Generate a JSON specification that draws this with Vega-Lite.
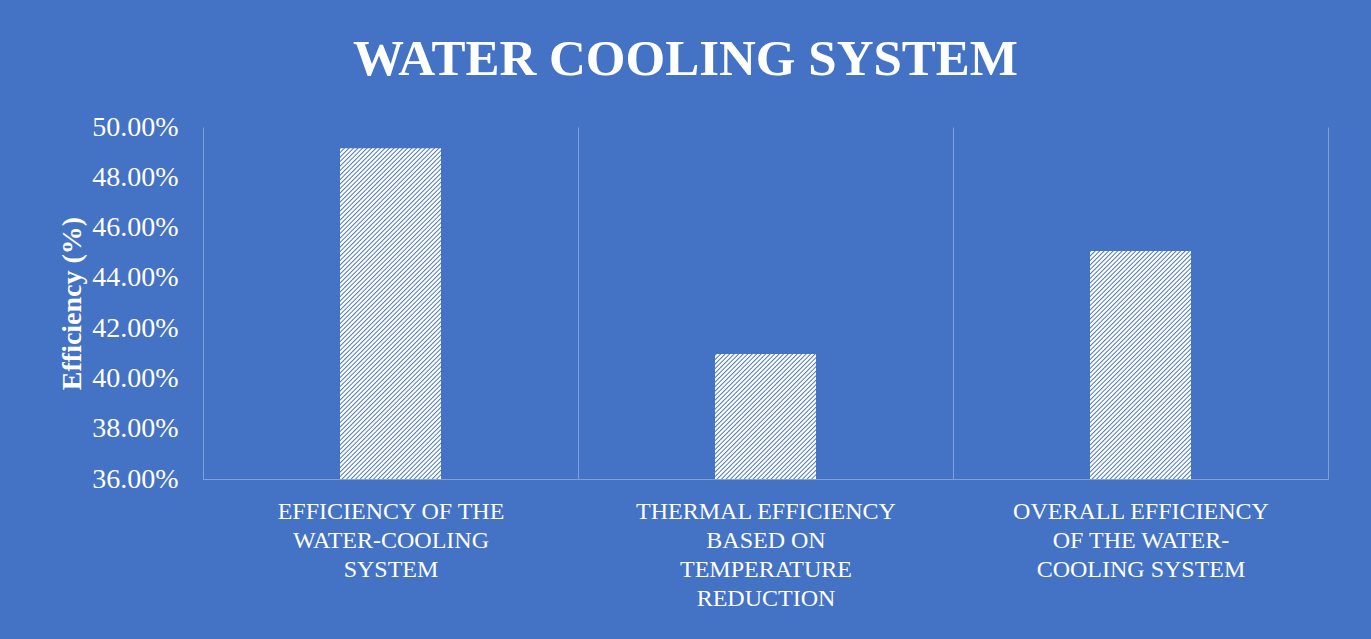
{
  "$schema": "https://vega.github.io/schema/vega-lite/v6.json",
  "width": 1125,
  "height": 352,
  "autosize": "none",
  "padding": {"left": 203, "top": 127, "right": 43, "bottom": 160},
  "background": "#4472C4",
  "config": {"view": {"stroke": null}, "font": "Liberation Serif"},
  "title": {
    "text": "WATER COOLING SYSTEM",
    "font": "Liberation Serif",
    "fontSize": 51,
    "fontWeight": "bold",
    "color": "white",
    "anchor": "middle",
    "baseline": "alphabetic",
    "dx": -80,
    "dy": 49,
    "offset": 36
  },
  "data": {
    "values": [
      {"category": "EFFICIENCY OF THE WATER-COOLING SYSTEM", "efficiency": 0.4915},
      {"category": "THERMAL EFFICIENCY BASED ON TEMPERATURE REDUCTION", "efficiency": 0.4097},
      {"category": "OVERALL EFFICIENCY OF THE WATER-COOLING SYSTEM", "efficiency": 0.4507}
    ]
  },
  "encoding": {
    "x": {
      "field": "category",
      "type": "nominal",
      "sort": null,
      "scale": {"paddingInner": 0, "paddingOuter": 0},
      "axis": {
        "title": null,
        "labelAngle": 0,
        "labelFont": "Liberation Serif",
        "labelFontSize": 24,
        "labelColor": "white",
        "labelPadding": 20,
        "labelLineHeight": 29,
        "labelLimit": 600,
        "labelOverlap": false,
        "labelExpr": "datum.value == 'THERMAL EFFICIENCY BASED ON TEMPERATURE REDUCTION' ? ['THERMAL EFFICIENCY', 'BASED ON', 'TEMPERATURE', 'REDUCTION'] : datum.value == 'OVERALL EFFICIENCY OF THE WATER-COOLING SYSTEM' ? ['OVERALL EFFICIENCY', 'OF THE WATER-', 'COOLING SYSTEM'] : datum.value == 'EFFICIENCY OF THE WATER-COOLING SYSTEM' ? ['EFFICIENCY OF THE', 'WATER-COOLING', 'SYSTEM'] : ''",
        "ticks": false,
        "domain": true,
        "domainColor": "#80a0dc",
        "domainWidth": 1,
        "grid": true,
        "gridColor": "#80a0dc",
        "gridWidth": 1,
        "gridOpacity": 1,
        "tickBand": "extent"
      }
    }
  },
  "layer": [
    {
      "mark": {
        "type": "bar",
        "width": {"band": 0.26933},
        "color": {
          "gradient": "linear",
          "x1": 0, "y1": 0, "x2": 0.33891, "y2": 1.18116,
          "stops": [
            {"offset":0,"color":"#fff"},{"offset":0.004,"color":"#fff"},{"offset":0.007,"color":"#4472c4"},
            {"offset":0.01,"color":"#fff"},{"offset":0.014,"color":"#fff"},{"offset":0.017,"color":"#4472c4"},
            {"offset":0.02,"color":"#fff"},{"offset":0.024,"color":"#fff"},{"offset":0.027,"color":"#4472c4"},
            {"offset":0.03,"color":"#fff"},{"offset":0.034,"color":"#fff"},{"offset":0.037,"color":"#4472c4"},
            {"offset":0.04,"color":"#fff"},{"offset":0.044,"color":"#fff"},{"offset":0.047,"color":"#4472c4"},
            {"offset":0.05,"color":"#fff"},{"offset":0.054,"color":"#fff"},{"offset":0.057,"color":"#4472c4"},
            {"offset":0.06,"color":"#fff"},{"offset":0.064,"color":"#fff"},{"offset":0.067,"color":"#4472c4"},
            {"offset":0.07,"color":"#fff"},{"offset":0.074,"color":"#fff"},{"offset":0.077,"color":"#4472c4"},
            {"offset":0.08,"color":"#fff"},{"offset":0.084,"color":"#fff"},{"offset":0.087,"color":"#4472c4"},
            {"offset":0.09,"color":"#fff"},{"offset":0.094,"color":"#fff"},{"offset":0.097,"color":"#4472c4"},
            {"offset":0.1,"color":"#fff"},{"offset":0.104,"color":"#fff"},{"offset":0.107,"color":"#4472c4"},
            {"offset":0.11,"color":"#fff"},{"offset":0.114,"color":"#fff"},{"offset":0.117,"color":"#4472c4"},
            {"offset":0.12,"color":"#fff"},{"offset":0.124,"color":"#fff"},{"offset":0.127,"color":"#4472c4"},
            {"offset":0.13,"color":"#fff"},{"offset":0.134,"color":"#fff"},{"offset":0.137,"color":"#4472c4"},
            {"offset":0.14,"color":"#fff"},{"offset":0.144,"color":"#fff"},{"offset":0.147,"color":"#4472c4"},
            {"offset":0.15,"color":"#fff"},{"offset":0.154,"color":"#fff"},{"offset":0.157,"color":"#4472c4"},
            {"offset":0.16,"color":"#fff"},{"offset":0.164,"color":"#fff"},{"offset":0.167,"color":"#4472c4"},
            {"offset":0.17,"color":"#fff"},{"offset":0.174,"color":"#fff"},{"offset":0.177,"color":"#4472c4"},
            {"offset":0.18,"color":"#fff"},{"offset":0.184,"color":"#fff"},{"offset":0.187,"color":"#4472c4"},
            {"offset":0.19,"color":"#fff"},{"offset":0.194,"color":"#fff"},{"offset":0.197,"color":"#4472c4"},
            {"offset":0.2,"color":"#fff"},{"offset":0.204,"color":"#fff"},{"offset":0.207,"color":"#4472c4"},
            {"offset":0.21,"color":"#fff"},{"offset":0.214,"color":"#fff"},{"offset":0.217,"color":"#4472c4"},
            {"offset":0.22,"color":"#fff"},{"offset":0.224,"color":"#fff"},{"offset":0.227,"color":"#4472c4"},
            {"offset":0.23,"color":"#fff"},{"offset":0.234,"color":"#fff"},{"offset":0.237,"color":"#4472c4"},
            {"offset":0.24,"color":"#fff"},{"offset":0.244,"color":"#fff"},{"offset":0.247,"color":"#4472c4"},
            {"offset":0.25,"color":"#fff"},{"offset":0.254,"color":"#fff"},{"offset":0.257,"color":"#4472c4"},
            {"offset":0.26,"color":"#fff"},{"offset":0.264,"color":"#fff"},{"offset":0.267,"color":"#4472c4"},
            {"offset":0.27,"color":"#fff"},{"offset":0.274,"color":"#fff"},{"offset":0.277,"color":"#4472c4"},
            {"offset":0.28,"color":"#fff"},{"offset":0.284,"color":"#fff"},{"offset":0.287,"color":"#4472c4"},
            {"offset":0.29,"color":"#fff"},{"offset":0.294,"color":"#fff"},{"offset":0.297,"color":"#4472c4"},
            {"offset":0.3,"color":"#fff"},{"offset":0.304,"color":"#fff"},{"offset":0.307,"color":"#4472c4"},
            {"offset":0.31,"color":"#fff"},{"offset":0.314,"color":"#fff"},{"offset":0.317,"color":"#4472c4"},
            {"offset":0.32,"color":"#fff"},{"offset":0.324,"color":"#fff"},{"offset":0.327,"color":"#4472c4"},
            {"offset":0.33,"color":"#fff"},{"offset":0.334,"color":"#fff"},{"offset":0.337,"color":"#4472c4"},
            {"offset":0.34,"color":"#fff"},{"offset":0.344,"color":"#fff"},{"offset":0.347,"color":"#4472c4"},
            {"offset":0.35,"color":"#fff"},{"offset":0.354,"color":"#fff"},{"offset":0.357,"color":"#4472c4"},
            {"offset":0.36,"color":"#fff"},{"offset":0.364,"color":"#fff"},{"offset":0.367,"color":"#4472c4"},
            {"offset":0.37,"color":"#fff"},{"offset":0.374,"color":"#fff"},{"offset":0.377,"color":"#4472c4"},
            {"offset":0.38,"color":"#fff"},{"offset":0.384,"color":"#fff"},{"offset":0.387,"color":"#4472c4"},
            {"offset":0.39,"color":"#fff"},{"offset":0.394,"color":"#fff"},{"offset":0.397,"color":"#4472c4"},
            {"offset":0.4,"color":"#fff"},{"offset":0.404,"color":"#fff"},{"offset":0.407,"color":"#4472c4"},
            {"offset":0.41,"color":"#fff"},{"offset":0.414,"color":"#fff"},{"offset":0.417,"color":"#4472c4"},
            {"offset":0.42,"color":"#fff"},{"offset":0.424,"color":"#fff"},{"offset":0.427,"color":"#4472c4"},
            {"offset":0.43,"color":"#fff"},{"offset":0.434,"color":"#fff"},{"offset":0.437,"color":"#4472c4"},
            {"offset":0.44,"color":"#fff"},{"offset":0.444,"color":"#fff"},{"offset":0.447,"color":"#4472c4"},
            {"offset":0.45,"color":"#fff"},{"offset":0.454,"color":"#fff"},{"offset":0.457,"color":"#4472c4"},
            {"offset":0.46,"color":"#fff"},{"offset":0.464,"color":"#fff"},{"offset":0.467,"color":"#4472c4"},
            {"offset":0.47,"color":"#fff"},{"offset":0.474,"color":"#fff"},{"offset":0.477,"color":"#4472c4"},
            {"offset":0.48,"color":"#fff"},{"offset":0.484,"color":"#fff"},{"offset":0.487,"color":"#4472c4"},
            {"offset":0.49,"color":"#fff"},{"offset":0.494,"color":"#fff"},{"offset":0.497,"color":"#4472c4"},
            {"offset":0.5,"color":"#fff"},{"offset":0.504,"color":"#fff"},{"offset":0.507,"color":"#4472c4"},
            {"offset":0.51,"color":"#fff"},{"offset":0.514,"color":"#fff"},{"offset":0.517,"color":"#4472c4"},
            {"offset":0.52,"color":"#fff"},{"offset":0.524,"color":"#fff"},{"offset":0.527,"color":"#4472c4"},
            {"offset":0.53,"color":"#fff"},{"offset":0.534,"color":"#fff"},{"offset":0.537,"color":"#4472c4"},
            {"offset":0.54,"color":"#fff"},{"offset":0.544,"color":"#fff"},{"offset":0.547,"color":"#4472c4"},
            {"offset":0.55,"color":"#fff"},{"offset":0.554,"color":"#fff"},{"offset":0.557,"color":"#4472c4"},
            {"offset":0.56,"color":"#fff"},{"offset":0.564,"color":"#fff"},{"offset":0.567,"color":"#4472c4"},
            {"offset":0.57,"color":"#fff"},{"offset":0.574,"color":"#fff"},{"offset":0.577,"color":"#4472c4"},
            {"offset":0.58,"color":"#fff"},{"offset":0.584,"color":"#fff"},{"offset":0.587,"color":"#4472c4"},
            {"offset":0.59,"color":"#fff"},{"offset":0.594,"color":"#fff"},{"offset":0.597,"color":"#4472c4"},
            {"offset":0.6,"color":"#fff"},{"offset":0.604,"color":"#fff"},{"offset":0.607,"color":"#4472c4"},
            {"offset":0.61,"color":"#fff"},{"offset":0.614,"color":"#fff"},{"offset":0.617,"color":"#4472c4"},
            {"offset":0.62,"color":"#fff"},{"offset":0.624,"color":"#fff"},{"offset":0.627,"color":"#4472c4"},
            {"offset":0.63,"color":"#fff"},{"offset":0.634,"color":"#fff"},{"offset":0.637,"color":"#4472c4"},
            {"offset":0.64,"color":"#fff"},{"offset":0.644,"color":"#fff"},{"offset":0.647,"color":"#4472c4"},
            {"offset":0.65,"color":"#fff"},{"offset":0.654,"color":"#fff"},{"offset":0.657,"color":"#4472c4"},
            {"offset":0.66,"color":"#fff"},{"offset":0.664,"color":"#fff"},{"offset":0.667,"color":"#4472c4"},
            {"offset":0.67,"color":"#fff"},{"offset":0.674,"color":"#fff"},{"offset":0.677,"color":"#4472c4"},
            {"offset":0.68,"color":"#fff"},{"offset":0.684,"color":"#fff"},{"offset":0.687,"color":"#4472c4"},
            {"offset":0.69,"color":"#fff"},{"offset":0.694,"color":"#fff"},{"offset":0.697,"color":"#4472c4"},
            {"offset":0.7,"color":"#fff"},{"offset":0.704,"color":"#fff"},{"offset":0.707,"color":"#4472c4"},
            {"offset":0.71,"color":"#fff"},{"offset":0.714,"color":"#fff"},{"offset":0.717,"color":"#4472c4"},
            {"offset":0.72,"color":"#fff"},{"offset":0.724,"color":"#fff"},{"offset":0.727,"color":"#4472c4"},
            {"offset":0.73,"color":"#fff"},{"offset":0.734,"color":"#fff"},{"offset":0.737,"color":"#4472c4"},
            {"offset":0.74,"color":"#fff"},{"offset":0.744,"color":"#fff"},{"offset":0.747,"color":"#4472c4"},
            {"offset":0.75,"color":"#fff"},{"offset":0.754,"color":"#fff"},{"offset":0.757,"color":"#4472c4"},
            {"offset":0.76,"color":"#fff"},{"offset":0.764,"color":"#fff"},{"offset":0.767,"color":"#4472c4"},
            {"offset":0.77,"color":"#fff"},{"offset":0.774,"color":"#fff"},{"offset":0.777,"color":"#4472c4"},
            {"offset":0.78,"color":"#fff"},{"offset":0.784,"color":"#fff"},{"offset":0.787,"color":"#4472c4"},
            {"offset":0.79,"color":"#fff"},{"offset":0.794,"color":"#fff"},{"offset":0.797,"color":"#4472c4"},
            {"offset":0.8,"color":"#fff"},{"offset":0.804,"color":"#fff"},{"offset":0.807,"color":"#4472c4"},
            {"offset":0.81,"color":"#fff"},{"offset":0.814,"color":"#fff"},{"offset":0.817,"color":"#4472c4"},
            {"offset":0.82,"color":"#fff"},{"offset":0.824,"color":"#fff"},{"offset":0.827,"color":"#4472c4"},
            {"offset":0.83,"color":"#fff"},{"offset":0.834,"color":"#fff"},{"offset":0.837,"color":"#4472c4"},
            {"offset":0.84,"color":"#fff"},{"offset":0.844,"color":"#fff"},{"offset":0.847,"color":"#4472c4"},
            {"offset":0.85,"color":"#fff"},{"offset":0.854,"color":"#fff"},{"offset":0.857,"color":"#4472c4"},
            {"offset":0.86,"color":"#fff"},{"offset":0.864,"color":"#fff"},{"offset":0.867,"color":"#4472c4"},
            {"offset":0.87,"color":"#fff"},{"offset":0.874,"color":"#fff"},{"offset":0.877,"color":"#4472c4"},
            {"offset":0.88,"color":"#fff"},{"offset":0.884,"color":"#fff"},{"offset":0.887,"color":"#4472c4"},
            {"offset":0.89,"color":"#fff"},{"offset":0.894,"color":"#fff"},{"offset":0.897,"color":"#4472c4"},
            {"offset":0.9,"color":"#fff"},{"offset":0.904,"color":"#fff"},{"offset":0.907,"color":"#4472c4"},
            {"offset":0.91,"color":"#fff"},{"offset":0.914,"color":"#fff"},{"offset":0.917,"color":"#4472c4"},
            {"offset":0.92,"color":"#fff"},{"offset":0.924,"color":"#fff"},{"offset":0.927,"color":"#4472c4"},
            {"offset":0.93,"color":"#fff"},{"offset":0.934,"color":"#fff"},{"offset":0.937,"color":"#4472c4"},
            {"offset":0.94,"color":"#fff"},{"offset":0.944,"color":"#fff"},{"offset":0.947,"color":"#4472c4"},
            {"offset":0.95,"color":"#fff"},{"offset":0.954,"color":"#fff"},{"offset":0.957,"color":"#4472c4"},
            {"offset":0.96,"color":"#fff"},{"offset":0.964,"color":"#fff"},{"offset":0.967,"color":"#4472c4"},
            {"offset":0.97,"color":"#fff"},{"offset":0.974,"color":"#fff"},{"offset":0.977,"color":"#4472c4"},
            {"offset":0.98,"color":"#fff"},{"offset":0.984,"color":"#fff"},{"offset":0.987,"color":"#4472c4"},
            {"offset":0.99,"color":"#fff"},{"offset":0.994,"color":"#fff"},{"offset":0.997,"color":"#4472c4"},
            {"offset":1,"color":"#fff"}
          ]
        }
      },
      "encoding": {
        "y": {
          "datum": 0.36,
          "type": "quantitative",
          "scale": {"domain": [0.36, 0.5], "nice": false, "zero": false},
          "axis": {
            "values": [0.36, 0.38, 0.4, 0.42, 0.44, 0.46, 0.48, 0.5],
            "format": ".2%",
            "title": "Efficiency (%)",
            "grid": false,
            "domain": false,
            "ticks": false,
            "labelFont": "Liberation Serif",
            "labelFontSize": 28,
            "labelColor": "white",
            "labelPadding": 25,
            "titleFont": "Liberation Serif",
            "titleFontSize": 28,
            "titleFontWeight": "bold",
            "titleColor": "white",
            "titlePadding": 5
          }
        },
        "y2": {"datum": 0.5}
      }
    },
    {
      "mark": {"type": "bar", "width": {"band": 0.26933}, "color": "#4472C4"},
      "encoding": {
        "y": {"field": "efficiency", "type": "quantitative"},
        "y2": {"datum": 0.5}
      }
    }
  ]
}
